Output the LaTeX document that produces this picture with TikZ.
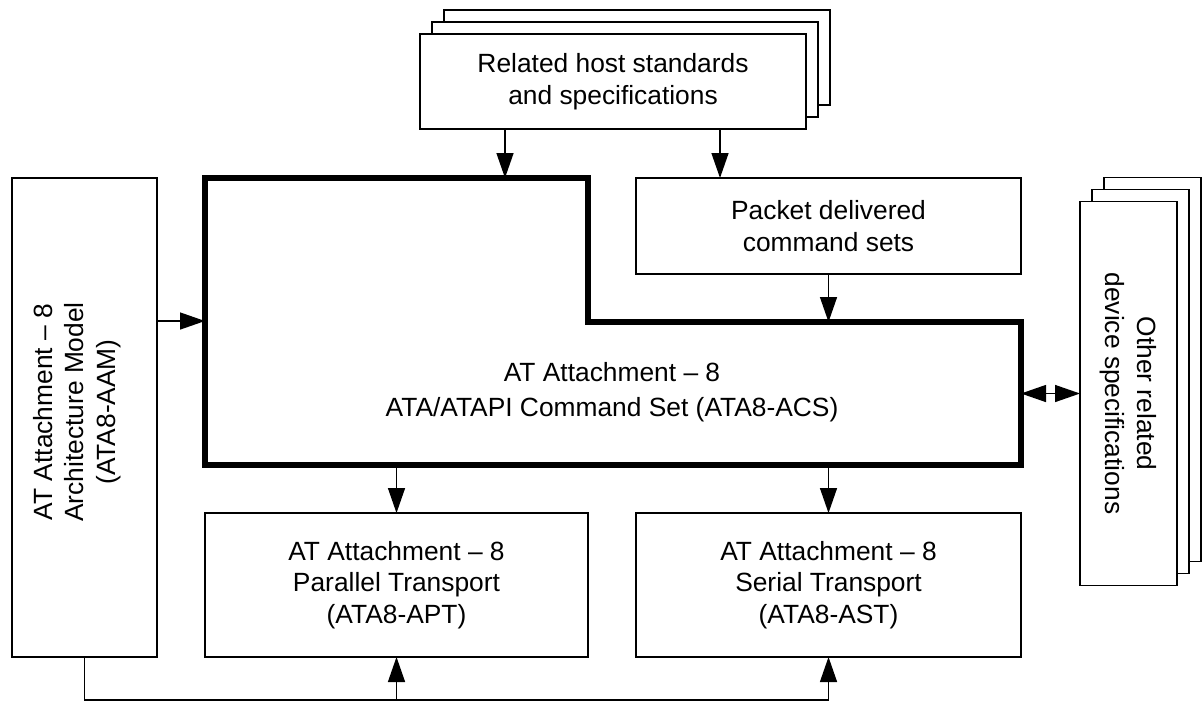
\documentclass[tikz,border=0pt]{standalone}
\usepackage{fontspec}
\setmainfont{Liberation Sans}
\usetikzlibrary{arrows.meta}
\tikzset{
  box/.style={draw, fill=white, line width=0.8pt, inner sep=0pt, outer sep=0pt, align=center, font=\fontsize{15}{18}\selectfont},
  label/.style={align=center, inner sep=0pt, font=\fontsize{15}{18}\selectfont},
  arr/.style={line width=0.8pt, -{Triangle[length=0.5cm,width=0.34cm]}},
  darr/.style={line width=0.8pt, {Triangle[length=0.5cm,width=0.34cm]}-{Triangle[length=0.5cm,width=0.34cm]}},
}
\begin{document}
\begin{tikzpicture}[x=0.02cm,y=-0.02cm]
\useasboundingbox (0,0) rectangle (1202,708);
\foreach \s in {24,12}
  \node[box, minimum width=7.72cm, minimum height=1.9cm] at (613+\s,81.5-\s) {};
\node[box, minimum width=7.72cm, minimum height=1.9cm] (host) at (613,81.5) {Related host standards\\and specifications};
\node[box, minimum width=7.7cm, minimum height=1.92cm] (packet) at (828.5,226) {Packet delivered\\command sets};

\coordinate (acsnw) at (205,178);
\coordinate (acsn) at (588,178);
\coordinate (acsnotch) at (588,322);
\coordinate (acsne) at (1021,322);
\coordinate (acsse) at (1021,465);
\coordinate (acssw) at (205,465);
\draw[line width=3.2pt, line join=miter] (acsnw) -- (acsn) -- (acsnotch) -- (acsne) -- (acsse) -- (acssw) -- cycle;
\node[label, font=\fontsize{15}{20}\selectfont] (acs) at (612,392) {AT Attachment – 8\\ATA/ATAPI Command Set (ATA8-ACS)};

\node[box, minimum width=2.9cm, minimum height=9.58cm] (aam) at (84.5,417.5) {};
\node[label, rotate=90] (aamtext) at (77,412) {AT Attachment – 8\\Architecture Model\\(ATA8-AAM)};

\foreach \s in {24,12}
  \node[box, minimum width=1.94cm, minimum height=7.68cm] at (1128.5+\s,393.5-\s) {};
\node[box, rotate=-90, minimum width=7.68cm, minimum height=1.94cm] (other) at (1128.5,393.5) {Other related\\device specifications};

\node[box, minimum width=7.66cm, minimum height=2.88cm] (par) at (396.5,585) {AT Attachment – 8\\Parallel Transport\\(ATA8-APT)};
\node[box, minimum width=7.7cm, minimum height=2.88cm] (ser) at (828.5,585) {AT Attachment – 8\\Serial Transport\\(ATA8-AST)};

\coordinate (in1) at (505,178);
\coordinate (in2) at (720,178);
\coordinate (in3) at (205,321);
\coordinate (fb) at (84.5,700);
\draw[arr] (host.south -| in1) -- (in1);
\draw[arr] (host.south -| in2) -- (in2);
\draw[arr] (packet.south) -- (packet.south |- acsne);
\draw[arr] (aam.east |- in3) -- (in3);
\draw[arr] (par.north |- acssw) -- (par.north);
\draw[arr] (ser.north |- acssw) -- (ser.north);
\draw[darr] (other.south -| acsne) -- (other.south);
\draw[line width=0.8pt] (aam.south) -- (fb) -- (fb -| ser.south);
\draw[arr] (par.south |- fb) -- (par.south);
\draw[arr] (ser.south |- fb) -- (ser.south);
\end{tikzpicture}
\end{document}
